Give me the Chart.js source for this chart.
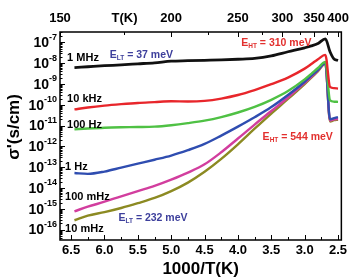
<!DOCTYPE html>
<html>
<head>
<meta charset="utf-8">
<script src="https://cdn.jsdelivr.net/npm/chart.js@4.4.0/dist/chart.umd.min.js"></script>
<style>
  html, body { margin: 0; padding: 0; background: #fff; }
  #wrap { width: 355px; height: 278px; }
</style>
</head>
<body>
<div id="wrap"><canvas id="chart" width="355" height="278"></canvas></div>
<script>
// 1000/T (K^-1) grid the curves were read at
const invT = [6.45, 6.25, 6.0, 5.75, 5.5, 5.25, 5.0, 4.75, 4.5, 4.25, 4.0, 3.75, 3.5, 3.25, 3.0, 2.9, 2.8, 2.69, 2.62, 2.56, 2.5];

// log10 of sigma' (S/cm) for each frequency
const log1MHz   = [-8.21, -8.17, -8.12, -8.08, -8.03, -7.98, -7.90, -7.88, -7.86, -7.84, -7.81, -7.77, -7.65, -7.45, -7.26, -7.17, -7.05, -6.83, -7.45, -7.80, -7.87];
const log10kHz  = [-10.22, -10.13, -10.04, -9.97, -9.91, -9.87, -9.83, -9.84, -9.81, -9.70, -9.53, -9.29, -9.01, -8.69, -8.26, -8.04, -7.81, -7.60, -9.14, -9.20, -9.22];
const log100Hz  = [-11.18, -11.14, -11.10, -11.08, -11.07, -11.05, -10.98, -10.88, -10.76, -10.59, -10.37, -10.10, -9.76, -9.34, -8.78, -8.51, -8.23, -7.94, -9.78, -9.85, -9.86];
const log1Hz    = [-13.28, -13.32, -13.21, -13.02, -12.83, -12.64, -12.44, -12.18, -11.88, -11.48, -11.05, -10.60, -10.11, -9.53, -8.89, -8.60, -8.32, -7.99, -10.70, -10.64, -10.59];
const log100mHz = [-15.12, -14.90, -14.66, -14.40, -14.15, -13.90, -13.60, -13.26, -12.86, -12.28, -11.62, -10.95, -10.30, -9.65, -8.95, -8.66, -8.35, -8.00, -10.76, -10.70, -10.68];
const log10mHz  = [-15.55, -15.33, -15.16, -14.96, -14.73, -14.48, -14.15, -13.74, -13.22, -12.60, -11.90, -11.15, -10.42, -9.72, -9.00, -8.70, -8.38, -8.02, -10.80, -10.74, -10.72];

// axis ticks
const decades = [-16, -15, -14, -13, -12, -11, -10, -9, -8, -7];
const bottomTicks = [6.5, 6.0, 5.5, 5.0, 4.5, 4.0, 3.5, 3.0, 2.5];
const bottomMinor = [6.25, 5.75, 5.25, 4.75, 4.25, 3.75, 3.25, 2.75];
const topTemps = [150, 200, 250, 300, 350, 400];
const topMinorTemps = [175, 225, 275, 325, 375];

// text inside the plot: [text, subscript, rest, 1000/T, log10 sigma, color]
const curveLabels = [
  ['1 MHz', '', '', 6.56, -7.77, '#000'],
  ['10 kHz', '', '', 6.56, -9.73, '#000'],
  ['100 Hz', '', '', 6.56, -10.97, '#000'],
  ['1 Hz', '', '', 6.59, -12.98, '#000'],
  ['100 mHz', '', '', 6.59, -14.42, '#000'],
  ['10 mHz', '', '', 6.59, -15.95, '#000'],
  ['E', 'LT', ' = 37 meV', 5.92, -7.62, '#3d3f9c'],
  ['E', 'LT', ' = 232 meV', 5.79, -15.47, '#3d3f9c'],
  ['E', 'HT', ' = 310 meV', 3.95, -7.05, '#e2302e'],
  ['E', 'HT', ' = 544 meV', 3.63, -11.55, '#e2302e']
];

const FONT = '"Liberation Sans", Arial, sans-serif';

function series(logs) {
  return invT.map((x, i) => ({ x: x, y: Math.pow(10, logs[i]) }));
}

const datasets = [
  { data: series(log1MHz), borderColor: '#111111', borderWidth: 2.8 },
  { data: series(log10kHz), borderColor: '#e8262b' },
  { data: series(log100Hz), borderColor: '#4fc144' },
  { data: series(log1Hz), borderColor: '#2f4db0' },
  { data: series(log100mHz), borderColor: '#d23e9e' },
  { data: series(log10mHz), borderColor: '#8c8a22' }
];

// frame, inward ticks, y labels and the texts
const decorPlugin = {
  id: 'decor',
  afterDraw(chart) {
    const ctx = chart.ctx;
    const a = chart.chartArea;
    const xs = chart.scales.x, xt = chart.scales.xTop, ys = chart.scales.y;
    ctx.save();
    ctx.strokeStyle = '#000';
    ctx.lineWidth = 1.5;
    ctx.strokeRect(a.left, a.top, a.right - a.left, a.bottom - a.top);

    ctx.lineWidth = 1;
    ctx.beginPath();
    decades.concat([-17]).forEach(d => {
      for (let m = 1; m <= 9; m++) {
        const v = m * Math.pow(10, d);
        if (v < ys.min || v > ys.max) continue;
        const py = Math.round(ys.getPixelForValue(v)) + 0.5;
        const len = m === 1 ? 5 : 2.5;
        ctx.moveTo(a.left, py); ctx.lineTo(a.left + len, py);
      }
    });
    bottomTicks.forEach(v => {
      const px = Math.round(xs.getPixelForValue(v)) + 0.5;
      ctx.moveTo(px, a.bottom); ctx.lineTo(px, a.bottom - 5);
    });
    bottomMinor.forEach(v => {
      const px = Math.round(xs.getPixelForValue(v)) + 0.5;
      ctx.moveTo(px, a.bottom); ctx.lineTo(px, a.bottom - 3);
    });
    topTemps.forEach(t => {
      const px = Math.round(xt.getPixelForValue(1000 / t)) + 0.5;
      ctx.moveTo(px, a.top); ctx.lineTo(px, a.top + 5);
    });
    topMinorTemps.forEach(t => {
      const px = Math.round(xt.getPixelForValue(1000 / t)) + 0.5;
      ctx.moveTo(px, a.top); ctx.lineTo(px, a.top + 3);
    });
    ctx.stroke();

    // y tick labels 10^n
    ctx.fillStyle = '#000';
    ctx.textBaseline = 'middle';
    ctx.textAlign = 'left';
    decades.forEach(d => {
      const py = ys.getPixelForValue(Math.pow(10, d));
      const exp = String(d);
      ctx.font = 'bold 9px ' + FONT;
      const we = ctx.measureText(exp).width;
      ctx.font = 'bold 14px ' + FONT;
      const wb = ctx.measureText('10').width;
      const right = a.left - 3;
      ctx.fillText('10', right - we - wb, py + 1);
      ctx.font = 'bold 9px ' + FONT;
      ctx.fillText(exp, right - we, py - 5);
    });

    // y axis title
    ctx.save();
    ctx.translate(14, 127);
    ctx.rotate(-Math.PI / 2);
    ctx.textAlign = 'center';
    ctx.font = 'bold 17px ' + FONT;
    ctx.fillText("\u03c3'(s/cm)", 0, 0);
    ctx.restore();

    // T(K) on the top axis
    ctx.textAlign = 'center';
    ctx.font = 'bold 13px ' + FONT;
    ctx.fillText('T(K)', xt.getPixelForValue(5.7), 18);

    // curve labels
    ctx.textAlign = 'left';
    curveLabels.forEach(l => {
      let px = xs.getPixelForValue(l[3]);
      const py = ys.getPixelForValue(Math.pow(10, l[4]));
      ctx.fillStyle = l[5];
      if (!l[1]) {
        ctx.font = 'bold 11px ' + FONT;
        ctx.fillText(l[0], px, py);
        return;
      }
      ctx.font = 'bold 10.5px ' + FONT;
      ctx.fillText(l[0], px, py);
      px += ctx.measureText(l[0]).width;
      ctx.font = 'bold 6.5px ' + FONT;
      ctx.fillText(l[1], px, py + 3);
      px += ctx.measureText(l[1]).width;
      ctx.font = 'bold 10.5px ' + FONT;
      ctx.fillText(l[2], px, py);
    });
    ctx.restore();
  }
};

const tickFont = { family: FONT, size: 13, weight: 'bold' };

new Chart(document.getElementById('chart'), {
  type: 'line',
  data: { datasets: datasets },
  options: {
    responsive: false,
    animation: false,
    layout: { padding: { right: 11, left: 0, top: 0, bottom: 0 } },
    plugins: { legend: { display: false }, tooltip: { enabled: false } },
    elements: {
      point: { radius: 0 },
      line: { borderWidth: 2.4, cubicInterpolationMode: 'monotone', fill: false }
    },
    scales: {
      x: {
        type: 'linear', position: 'bottom', reverse: true, bounds: 'data',
        min: 2.45, max: 1000 / 150,
        afterBuildTicks: s => { s.ticks = bottomTicks.map(v => ({ value: v })); },
        afterFit: s => { s.height = 38; },
        grid: { display: false, drawTicks: false },
        border: { display: false },
        ticks: { font: tickFont, color: '#000', padding: 3, maxRotation: 0, autoSkip: false,
                 callback: v => v.toFixed(1) },
        title: { display: true, text: '1000/T(K)', color: '#000', padding: 0,
                 font: { family: FONT, size: 17, weight: 'bold', lineHeight: 1 } }
      },
      xTop: {
        type: 'linear', position: 'top', reverse: true, bounds: 'data',
        min: 2.45, max: 1000 / 150,
        afterBuildTicks: s => { s.ticks = topTemps.map(t => ({ value: 1000 / t })); },
        afterFit: s => { s.height = 32; },
        grid: { display: false, drawTicks: false },
        border: { display: false },
        ticks: { font: tickFont, color: '#000', padding: 6, maxRotation: 0, autoSkip: false,
                 callback: v => String(Math.round(1000 / v)) }
      },
      y: {
        type: 'logarithmic', bounds: 'data',
        min: Math.pow(10, -16.5), max: Math.pow(10, -6.5),
        afterBuildTicks: s => { s.ticks = decades.map(d => ({ value: Math.pow(10, d) })); },
        afterFit: s => { s.width = 60; },
        grid: { display: false, drawTicks: false },
        border: { display: false },
        ticks: { display: false }
      }
    }
  },
  plugins: [decorPlugin]
});
</script>
</body>
</html>
